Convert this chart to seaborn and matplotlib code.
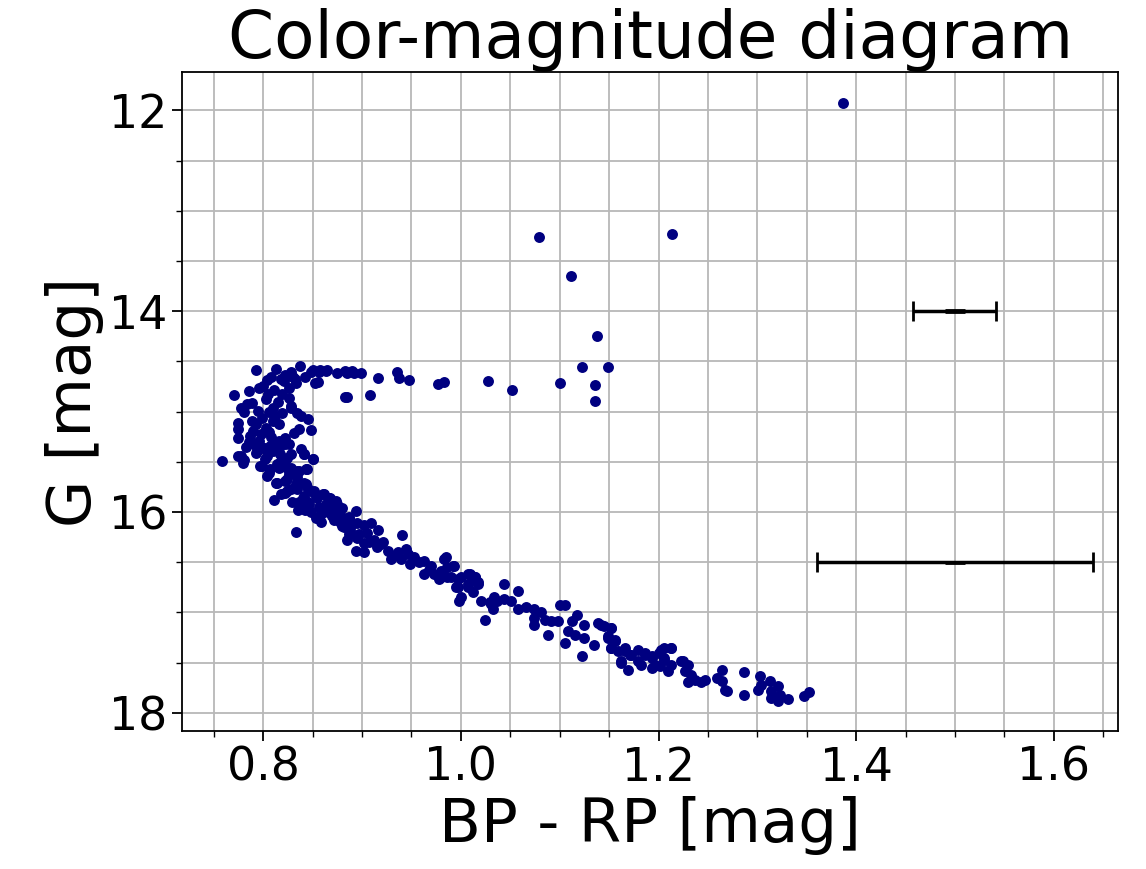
import numpy as np
import pandas as pd
import matplotlib
matplotlib.use("Agg")
import matplotlib.pyplot as plt
from matplotlib.ticker import MultipleLocator
import seaborn as sns

# ---- data ----
bp_rp = [
    # bright outliers / red clump
    1.387, 1.0795, 1.2137, 1.1116, 1.1376, 1.1227, 1.1488, 1.0278, 1.0517, 1.1001, 1.1353, 1.1353,
    # subgiant branch
    0.8844, 0.8919, 0.8993, 0.8844, 0.9081, 0.9158, 0.9358, 0.9378, 0.9477, 0.9764, 0.9832,
    0.850, 0.857, 0.865, 0.883, 0.890, 0.883, 0.855, 0.875,
    # turnoff cluster
    0.793, 0.813, 0.837, 0.828, 0.822, 0.848, 0.856, 0.863, 0.852, 0.804, 0.796, 0.786, 0.770, 0.777,
    0.826, 0.819, 0.833, 0.789, 0.803, 0.810, 0.828, 0.838, 0.845, 0.819, 0.774, 0.774, 0.774,
    0.789, 0.790, 0.787, 0.799, 0.803, 0.810, 0.836, 0.831, 0.848, 0.816, 0.822, 0.816,
    0.796, 0.794, 0.801, 0.774, 0.781, 0.758, 0.810, 0.816, 0.822, 0.841, 0.850,
    0.799, 0.806, 0.816, 0.822, 0.828, 0.826, 0.836, 0.843, 0.813, 0.822, 0.833, 0.822, 0.828,
    0.843, 0.848, 0.840, 0.846, 0.852, 0.860, 0.867, 0.874, 0.863, 0.870, 0.880, 0.877, 0.887, 0.890,
    0.833, 0.887, 0.828, 0.834,
    0.777, 0.780, 0.793, 0.800, 0.807, 0.814, 0.826, 0.793, 0.804, 0.817, 0.824, 0.841, 0.850,
    0.797, 0.807, 0.814, 0.824, 0.834, 0.844, 0.804, 0.814, 0.824, 0.834, 0.841,
    0.824, 0.834, 0.844, 0.851, 0.841, 0.844, 0.854, 0.861, 0.868, 0.858, 0.875, 0.865,
    0.875, 0.882, 0.888, 0.882, 0.888,
    0.808, 0.818, 0.830, 0.784, 0.795, 0.806, 0.812, 0.798, 0.808, 0.786, 0.792, 0.802,
    0.818, 0.828, 0.838, 0.811, 0.829, 0.842, 0.856, 0.866, 0.878, 0.870, 0.858,
    0.800, 0.811, 0.821, 0.832, 0.842, 0.805, 0.815, 0.826, 0.781, 0.783, 0.793, 0.806,
    0.818, 0.835, 0.845, 0.853, 0.862, 0.872, 0.880, 0.858, 0.848, 0.836,
    # upper main sequence
    0.894, 0.885, 0.895, 0.888, 0.902, 0.909, 0.905, 0.916, 0.885, 0.895, 0.902, 0.912,
    0.894, 0.902, 0.919, 0.926, 0.932, 0.929, 0.939, 0.946, 0.953, 0.949, 0.940,
    0.963, 0.970, 0.963, 0.973, 0.983, 0.986, 0.993, 0.980,
    0.990, 1.000, 1.007, 1.014, 0.997, 1.000, 1.007, 1.017, 1.020, 1.030, 1.034, 1.024,
    0.985, 0.992, 0.980, 0.978, 0.986, 0.997, 0.995, 1.009, 1.014, 1.017, 1.007, 0.998, 1.012,
    1.029, 1.032, 1.037, 1.044, 1.044, 1.051, 1.058,
    0.897, 0.907, 0.915, 0.921, 0.936, 0.944, 0.958, 0.968,
    # lower main sequence
    1.058, 1.066, 1.074, 1.081, 1.074, 1.085, 1.074, 1.091, 1.088, 1.098, 1.100, 1.105,
    1.112, 1.118, 1.125, 1.108, 1.115, 1.125, 1.105, 1.135, 1.123,
    1.139, 1.145, 1.152, 1.149, 1.156, 1.152, 1.159, 1.166, 1.162,
    1.171, 1.179, 1.186, 1.193, 1.200, 1.206, 1.213, 1.179, 1.196, 1.206, 1.213, 1.223,
    1.142, 1.152, 1.149, 1.156, 1.152, 1.166, 1.162, 1.172, 1.169, 1.182, 1.186, 1.193, 1.193,
    1.203, 1.213, 1.206, 1.210, 1.201,
    1.225, 1.230, 1.227, 1.233, 1.230, 1.237, 1.243, 1.247,
    1.264, 1.259, 1.264, 1.267, 1.269, 1.287, 1.286,
    1.303, 1.304, 1.301, 1.313, 1.314, 1.321, 1.323, 1.321, 1.331, 1.314, 1.347, 1.352,
]
g_mag = [
    11.93, 13.26, 13.23, 13.65, 14.25, 14.56, 14.56, 14.70, 14.78, 14.72, 14.74, 14.89,
    14.615, 14.615, 14.615, 14.85, 14.83, 14.67, 14.61, 14.67, 14.69, 14.725, 14.705,
    14.59, 14.59, 14.59, 14.60, 14.60, 14.85, 14.71, 14.62,
    14.59, 14.575, 14.55, 14.61, 14.64, 14.61, 14.61, 14.60, 14.72, 14.69, 14.76, 14.79, 14.83, 14.96,
    14.76, 14.82, 14.72, 14.91, 14.87, 14.96, 14.94, 15.04, 15.07, 15.01, 15.11, 15.17, 15.26,
    15.09, 15.19, 15.24, 15.06, 15.16, 15.09, 15.17, 15.21, 15.18, 15.12, 15.26, 15.29,
    15.29, 15.39, 15.36, 15.44, 15.48, 15.49, 15.39, 15.36, 15.32, 15.42, 15.47,
    15.54, 15.61, 15.56, 15.49, 15.56, 15.62, 15.59, 15.57, 15.71, 15.69, 15.72, 15.81, 15.77,
    15.72, 15.79, 15.86, 15.92, 15.82, 15.82, 15.86, 15.89, 15.92, 15.96, 15.96, 16.02, 16.05, 16.12,
    16.20, 16.22, 14.96, 15.01,
    15.44, 15.51, 15.32, 15.36, 15.34, 15.31, 15.32, 15.41, 15.44, 15.42, 15.46, 15.42, 15.47,
    15.54, 15.57, 15.52, 15.56, 15.59, 15.57, 15.64, 15.71, 15.67, 15.65, 15.71,
    15.79, 15.77, 15.75, 15.79, 15.84, 15.92, 15.86, 15.82, 15.86, 15.96, 15.92, 15.99,
    16.01, 16.06, 16.09, 16.15, 16.22,
    14.66, 14.68, 14.66, 14.92, 14.99, 15.00, 15.04, 15.22, 15.25, 15.30, 15.33, 15.47,
    15.49, 15.42, 15.37, 15.88, 15.90, 15.98, 15.95, 16.00, 16.10, 16.04, 16.02,
    14.75, 14.78, 14.70, 14.68, 14.66, 14.82, 14.90, 14.86, 15.00, 15.35, 15.12, 15.20,
    15.82, 15.98, 15.90, 16.06, 15.96, 16.08, 16.14, 16.10, 16.00, 15.90,
    15.99, 16.08, 16.11, 16.18, 16.13, 16.11, 16.21, 16.18, 16.28, 16.26, 16.31, 16.28,
    16.39, 16.40, 16.32, 16.39, 16.44, 16.47, 16.47, 16.42, 16.45, 16.52, 16.23,
    16.49, 16.54, 16.62, 16.62, 16.47, 16.55, 16.54, 16.65,
    16.65, 16.65, 16.62, 16.65, 16.75, 16.85, 16.75, 16.72, 16.89, 16.92, 16.85, 17.07,
    16.45, 16.54, 16.59, 16.67, 16.65, 16.67, 16.75, 16.62, 16.65, 16.70, 16.72, 16.89, 16.80,
    16.90, 16.97, 16.89, 16.87, 16.72, 16.89, 16.79,
    16.22, 16.30, 16.35, 16.30, 16.40, 16.37, 16.50, 16.58,
    16.97, 16.95, 16.97, 17.00, 17.05, 17.07, 17.12, 17.08, 17.22, 17.08, 16.93, 16.93,
    17.08, 17.03, 17.12, 17.18, 17.22, 17.25, 17.30, 17.32, 17.43,
    17.10, 17.13, 17.15, 17.23, 17.27, 17.35, 17.38, 17.35, 17.48,
    17.42, 17.37, 17.40, 17.43, 17.40, 17.35, 17.35, 17.48, 17.52, 17.45, 17.52, 17.48,
    17.12, 17.15, 17.25, 17.28, 17.35, 17.38, 17.50, 17.42, 17.57, 17.52, 17.42, 17.45, 17.55,
    17.37, 17.35, 17.47, 17.58, 17.53,
    17.48, 17.52, 17.58, 17.62, 17.69, 17.67, 17.69, 17.67,
    17.57, 17.65, 17.68, 17.77, 17.78, 17.59, 17.82,
    17.63, 17.72, 17.77, 17.68, 17.78, 17.73, 17.82, 17.88, 17.86, 17.85, 17.83, 17.79,
]

# typical uncertainties shown as error bars
err_x = [1.5, 1.5]
err_y = [14.0, 16.5]
err_dx = [0.042, 0.14]
err_dy = [0.008, 0.003]

n = min(len(bp_rp), len(g_mag))
df = pd.DataFrame({"BP - RP": bp_rp[:n], "G": g_mag[:n]})

fig = plt.figure(figsize=(11.46, 8.69), dpi=100)
ax = fig.add_axes([0.159, 0.1588, 0.8166, 0.7582])

ax.set_axisbelow(True)
ax.grid(which="both", color="#b8b8b8", linewidth=1.3)

sns.scatterplot(data=df, x="BP - RP", y="G", ax=ax, color="navy", s=62,
                linewidth=0, legend=False)

ax.errorbar(err_x, err_y, xerr=err_dx, yerr=err_dy, fmt="none", ecolor="black",
            elinewidth=2.5, capsize=7, capthick=2)

ax.set_xlim(0.718, 1.665)
ax.set_ylim(18.18, 11.62)

ax.xaxis.set_major_locator(MultipleLocator(0.2))
ax.xaxis.set_minor_locator(MultipleLocator(0.05))
ax.yaxis.set_major_locator(MultipleLocator(2))
ax.yaxis.set_minor_locator(MultipleLocator(0.5))
ax.tick_params(which="major", length=7, width=1.3, labelsize=33, direction="out")
ax.tick_params(which="minor", length=4, width=1.0, direction="out")
for s in ax.spines.values():
    s.set_linewidth(1.3)
    s.set_color("black")

ax.set_xlabel("BP - RP [mag]", fontsize=44)
ax.set_ylabel("G [mag]", fontsize=44)
ax.set_title("Color-magnitude diagram", fontsize=47.5)

fig.savefig("out.png", dpi=100)
